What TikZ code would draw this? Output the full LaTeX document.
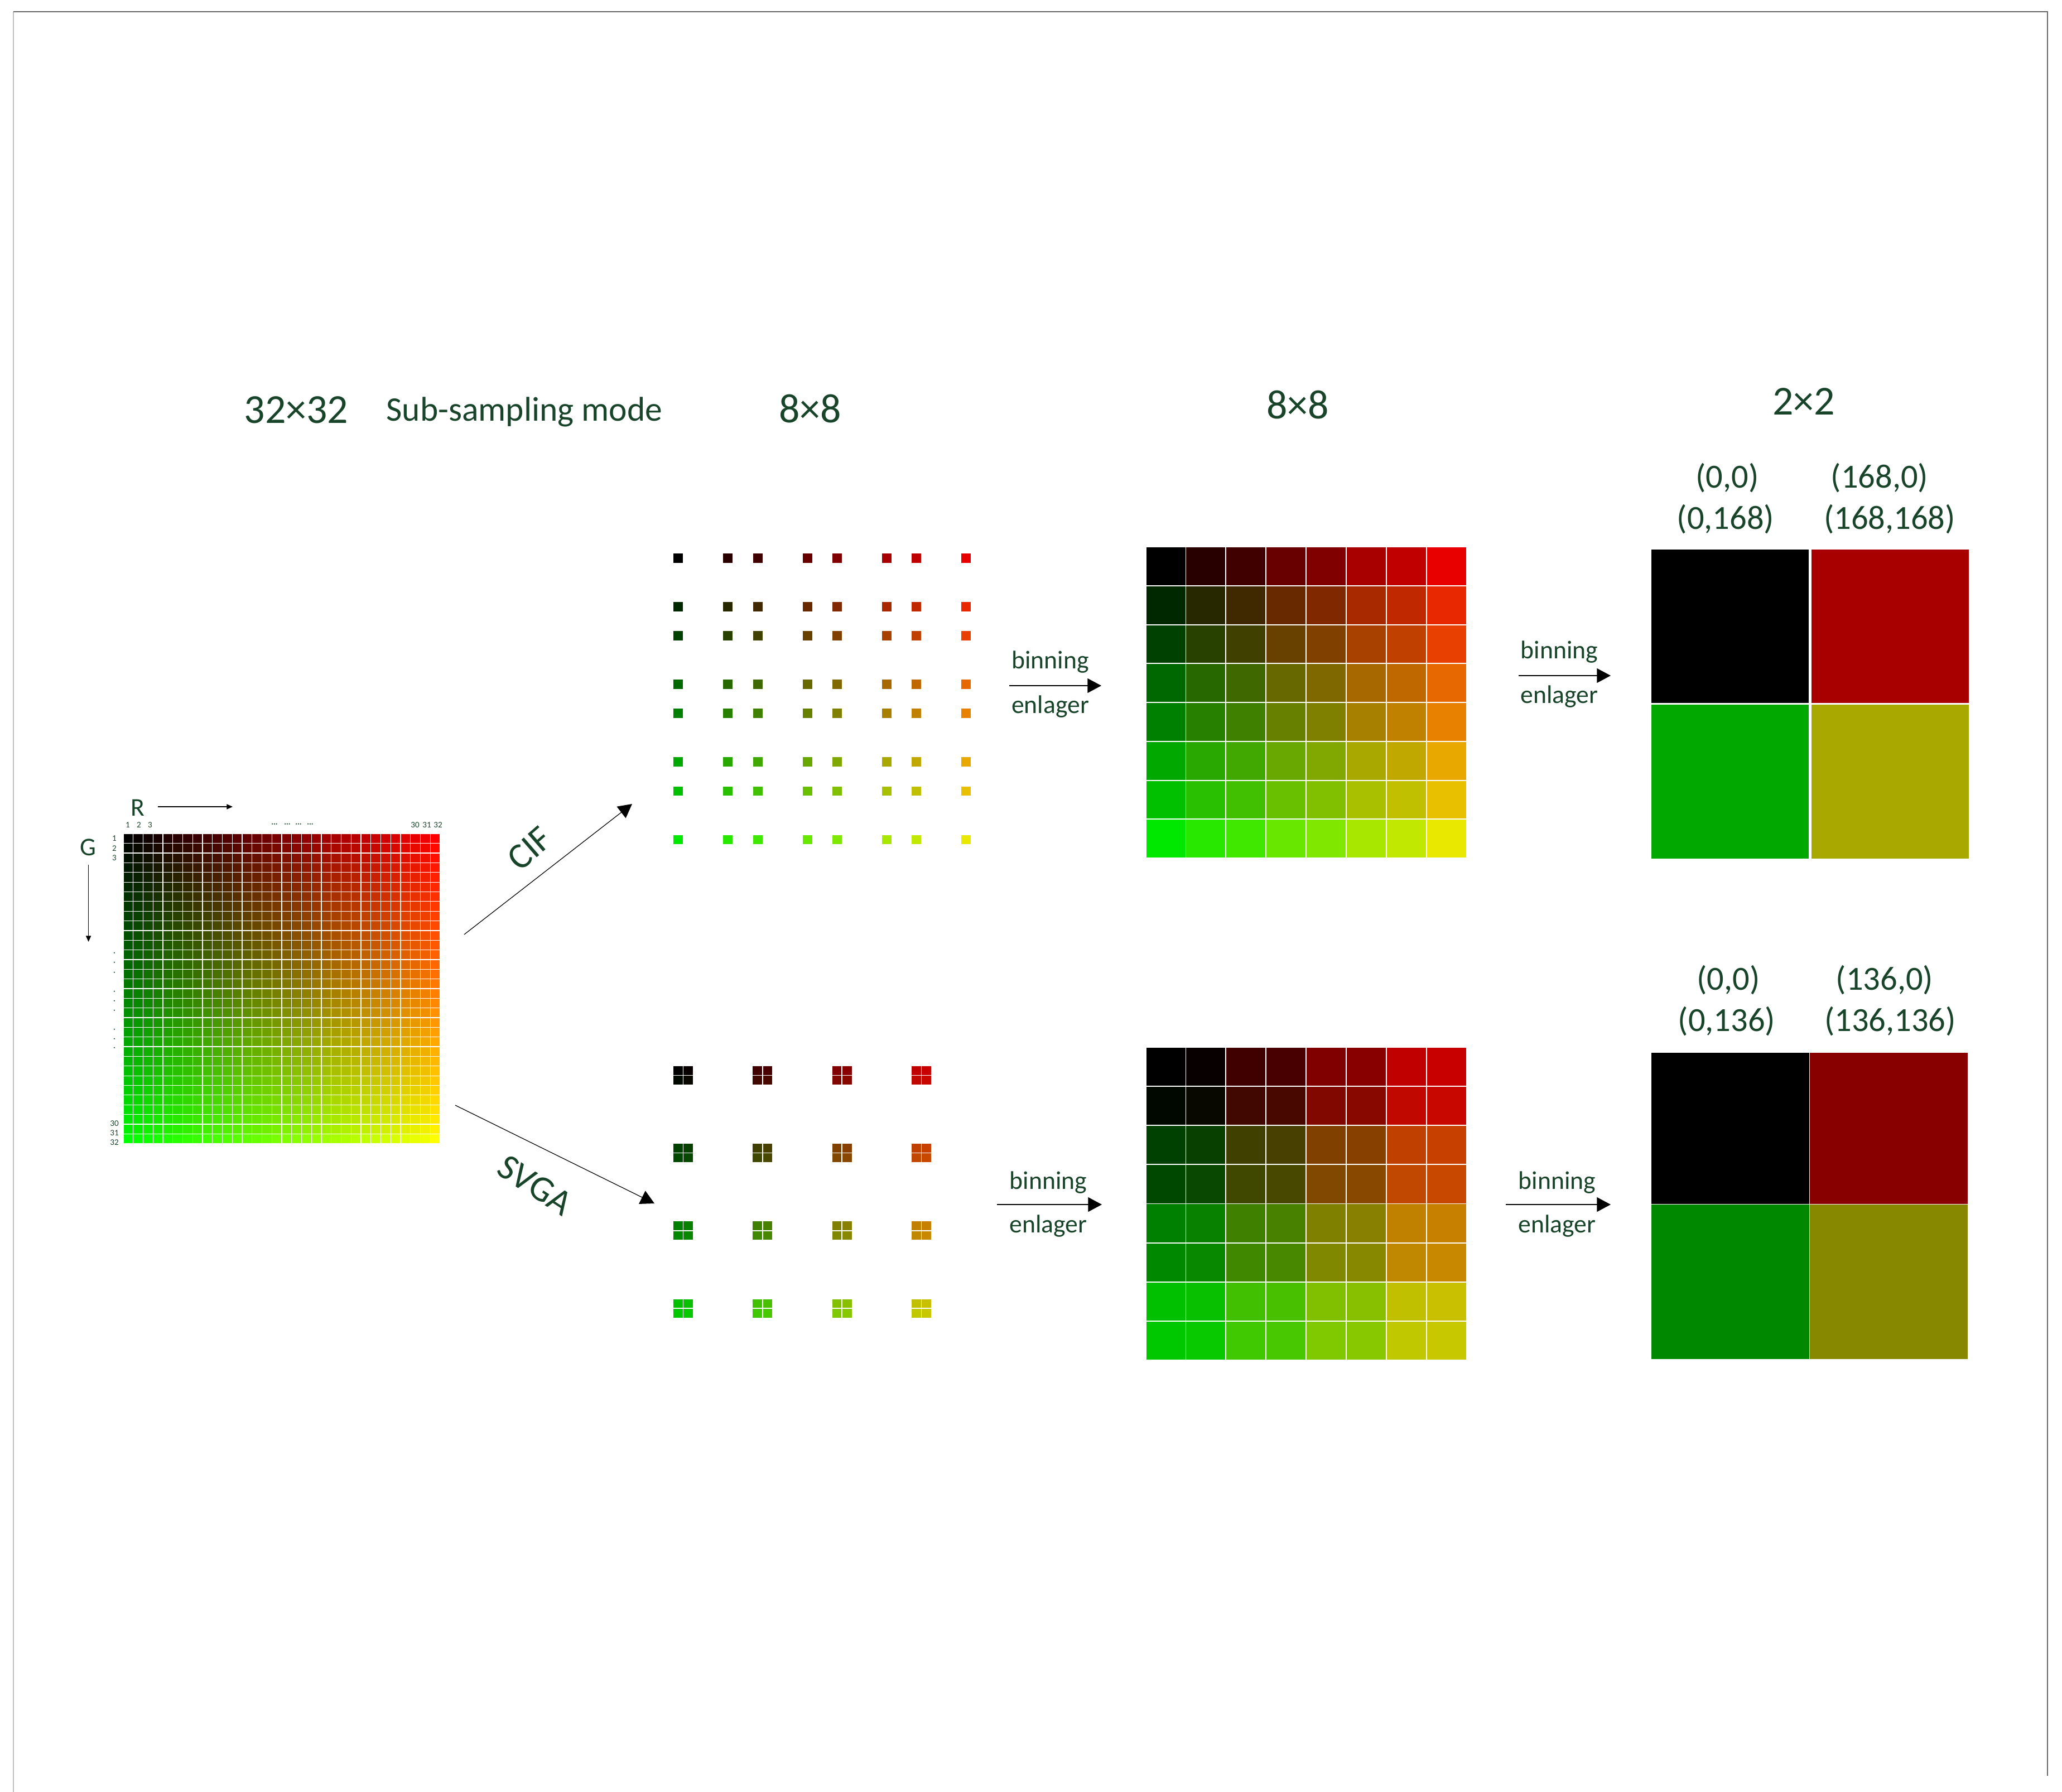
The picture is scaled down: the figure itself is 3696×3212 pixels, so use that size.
\documentclass[tikz,border=0pt]{standalone}
\usepackage{fontspec}
\setmainfont{Carlito}
\usetikzlibrary{arrows.meta}
\definecolor{txt}{RGB}{24,68,42}
\begin{document}
\begin{tikzpicture}[x=0.01cm,y=-0.01cm,
  lbl/.style={text=txt, inner sep=0pt},
  ttl/.style={lbl, font=\fontsize{21}{25}\selectfont},
  crd/.style={lbl, font=\fontsize{17.2}{20}\selectfont},
  bin/.style={lbl, font=\fontsize{13}{16}\selectfont, anchor=base},
  tinylbl/.style={lbl, font=\fontsize{4.3}{5}\selectfont},
  rot/.style={lbl, font=\fontsize{18.5}{22}\selectfont},
  arr/.style={-{Triangle[length=7pt,width=7.4pt]}, line width=0.35pt, black},
  sarr/.style={-{Triangle[length=3pt,width=2.6pt]}, line width=0.3pt, black},
]
\useasboundingbox (0,0) rectangle (3696,3212);
\fill[white] (0,0) rectangle (3696,3212);

% frame
\draw[black!25, line width=0.4pt] (24,21) -- (24,3212);
\draw[black!60, line width=0.5pt] (24,21) -- (3670,21) -- (3670,3183);

% 32x32 grid
\foreach \i in {0,...,31}{
  \foreach \j in {0,...,31}{
    \pgfmathtruncatemacro\rr{\i==31 ? 255 : 8*\i}
    \pgfmathtruncatemacro\gg{\j==31 ? 255 : 8*\j}
    \fill[fill={rgb,255:red,\rr;green,\gg;blue,0}] ({221.5+17.75*\i},{1495+17.35*\j}) rectangle ++(16.5,16.1);
  }
}

% axis labels of the 32x32 grid
\node[lbl, font=\fontsize{13}{15}\selectfont] (Rlab) at (247,1448) {R};
\node[lbl, font=\fontsize{13}{15}\selectfont] (Glab) at (158,1519) {G};
\coordinate (Ra) at (283,1446); \coordinate (Rb) at (417,1446);
\coordinate (Ga) at (158.6,1550); \coordinate (Gb) at (158.6,1688);
\draw[sarr] (Ra) -- (Rb);
\draw[sarr] (Ga) -- (Gb);

\foreach \t/\x [count=\k] in {1/229,2/249,3/269,30/744,31/765,32/785}
  \node[tinylbl] (top\k) at (\x,1479) {\t};
\foreach \x [count=\k] in {492,515,535,556}
  \node[tinylbl] (topdots\k) at (\x,1479) {···};
\foreach \t/\y [count=\k] in {1/1503,2/1520.5,3/1538,30/2013.6,31/2031,32/2048}
  \node[tinylbl] (left\k) at (205,\y) {\t};
\foreach \y [count=\k] in {1710,1727,1745,1779,1796,1813,1847,1864,1880}
  \node[tinylbl] (leftdot\k) at (205,\y) {·};

% titles
\node[ttl] (t32) at (531,735) {32×32};
\node[lbl, font=\fontsize{17.5}{21}\selectfont, anchor=base] (tsub) at (940,754) {Sub-sampling mode};
\node[ttl] (t8a) at (1452,733) {8×8};
\node[ttl] (t8b) at (2326,726) {8×8};
\node[ttl] (t2) at (3233,720) {2×2};

% CIF / SVGA arrows
\coordinate (cifS) at (832,1675); \coordinate (cifE) at (1133,1441);
\draw[arr] (cifS) -- (cifE);
\node[rot, rotate=41] (cif) at (949,1521) {CIF};
\coordinate (svS) at (816,1981); \coordinate (svE) at (1173,2157);
\draw[arr] (svS) -- (svE);
\node[rot, rotate=-33] (svga) at (959,2124) {SVGA};

% CIF sampled pixels
\foreach \c in {0,5,8,13,16,21,24,29}{
  \foreach \r in {0,5,8,13,16,21,24,29}{
    \pgfmathtruncatemacro\rr{8*\c}
    \pgfmathtruncatemacro\gg{8*\r}
    \fill[fill={rgb,255:red,\rr;green,\gg;blue,0}] ({1207.2+17.8*\c},{992+17.4*\r}) rectangle ++(17,16.8);
  }
}

% SVGA sampled 2x2 groups
\foreach \c in {0,8,16,24}{
  \foreach \r in {0,8,16,24}{
    \foreach \dc in {0,1}{
      \foreach \dr in {0,1}{
        \pgfmathtruncatemacro\rr{8*(\c+\dc)}
        \pgfmathtruncatemacro\gg{8*(\r+\dr)}
        \fill[fill={rgb,255:red,\rr;green,\gg;blue,0}] ({1207+17.8*\c+18.15*\dc},{1911+17.4*\r+17.25*\dr}) rectangle ++(16.65,15.75);
      }
    }
  }
}

% upper enlarged 8x8
\foreach \c [count=\a from 0] in {0,5,8,13,16,21,24,29}{
  \foreach \r [count=\b from 0] in {0,5,8,13,16,21,24,29}{
    \pgfmathtruncatemacro\rr{8*\c}
    \pgfmathtruncatemacro\gg{8*\r}
    \fill[fill={rgb,255:red,\rr;green,\gg;blue,0}] ({2054.5+71.9*\a},{981+69.75*\b}) rectangle ++(70,67.9);
  }
}

% lower enlarged 8x8
\foreach \c [count=\a from 0] in {0,1,8,9,16,17,24,25}{
  \foreach \r [count=\b from 0] in {0,1,8,9,16,17,24,25}{
    \pgfmathtruncatemacro\rr{8*\c}
    \pgfmathtruncatemacro\gg{8*\r}
    \fill[fill={rgb,255:red,\rr;green,\gg;blue,0}] ({2054.5+71.9*\a},{1877.6+70.2*\b}) rectangle ++(70,68.3);
  }
}

% binning arrows and labels
\coordinate (b1a) at (1809,1229); \coordinate (b1b) at (1974,1229);
\draw[arr] (b1a) -- (b1b);
\node[bin] (bin1) at (1882.5,1198) {binning};
\node[bin] (enl1) at (1882.5,1278) {enlager};

\coordinate (b2a) at (2722,1211); \coordinate (b2b) at (2887,1211);
\draw[arr] (b2a) -- (b2b);
\node[bin] (bin2) at (2795,1180) {binning};
\node[bin] (enl2) at (2795,1260) {enlager};

\coordinate (b3a) at (1787,2159); \coordinate (b3b) at (1975,2159);
\draw[arr] (b3a) -- (b3b);
\node[bin] (bin3) at (1879,2131) {binning};
\node[bin] (enl3) at (1879,2209) {enlager};

\coordinate (b4a) at (2699,2159); \coordinate (b4b) at (2887,2159);
\draw[arr] (b4a) -- (b4b);
\node[bin] (bin4) at (2791,2131) {binning};
\node[bin] (enl4) at (2791,2209) {enlager};

% upper 2x2
\fill[black] (2960,985) rectangle (3241.5,1259.7);
\fill[fill={rgb,255:red,168;green,0;blue,0}] (3247,985) rectangle (3529,1259.7);
\fill[fill={rgb,255:red,0;green,168;blue,0}] (2960,1263.3) rectangle (3241.5,1538.5);
\fill[fill={rgb,255:red,168;green,168;blue,0}] (3247,1263.3) rectangle (3529,1538.5);
\node[crd] (u00) at (3096,857) {(0,0)};
\node[crd] (u10) at (3369,857) {(168,0)};
\node[crd] (u01) at (3093,931) {(0,168)};
\node[crd] (u11) at (3387,931) {(168,168)};

% lower 2x2
\fill[black] (2960,1887) rectangle (3243,2157.7);
\fill[fill={rgb,255:red,136;green,0;blue,0}] (3244,1887) rectangle (3527,2157.7);
\fill[fill={rgb,255:red,0;green,136;blue,0}] (2960,2158.6) rectangle (3243,2435.5);
\fill[fill={rgb,255:red,136;green,136;blue,0}] (3244,2158.6) rectangle (3527,2435.5);
\node[crd] (l00) at (3098,1757) {(0,0)};
\node[crd] (l10) at (3378,1757) {(136,0)};
\node[crd] (l01) at (3095,1831) {(0,136)};
\node[crd] (l11) at (3388,1831) {(136,136)};
\end{tikzpicture}
\end{document}
